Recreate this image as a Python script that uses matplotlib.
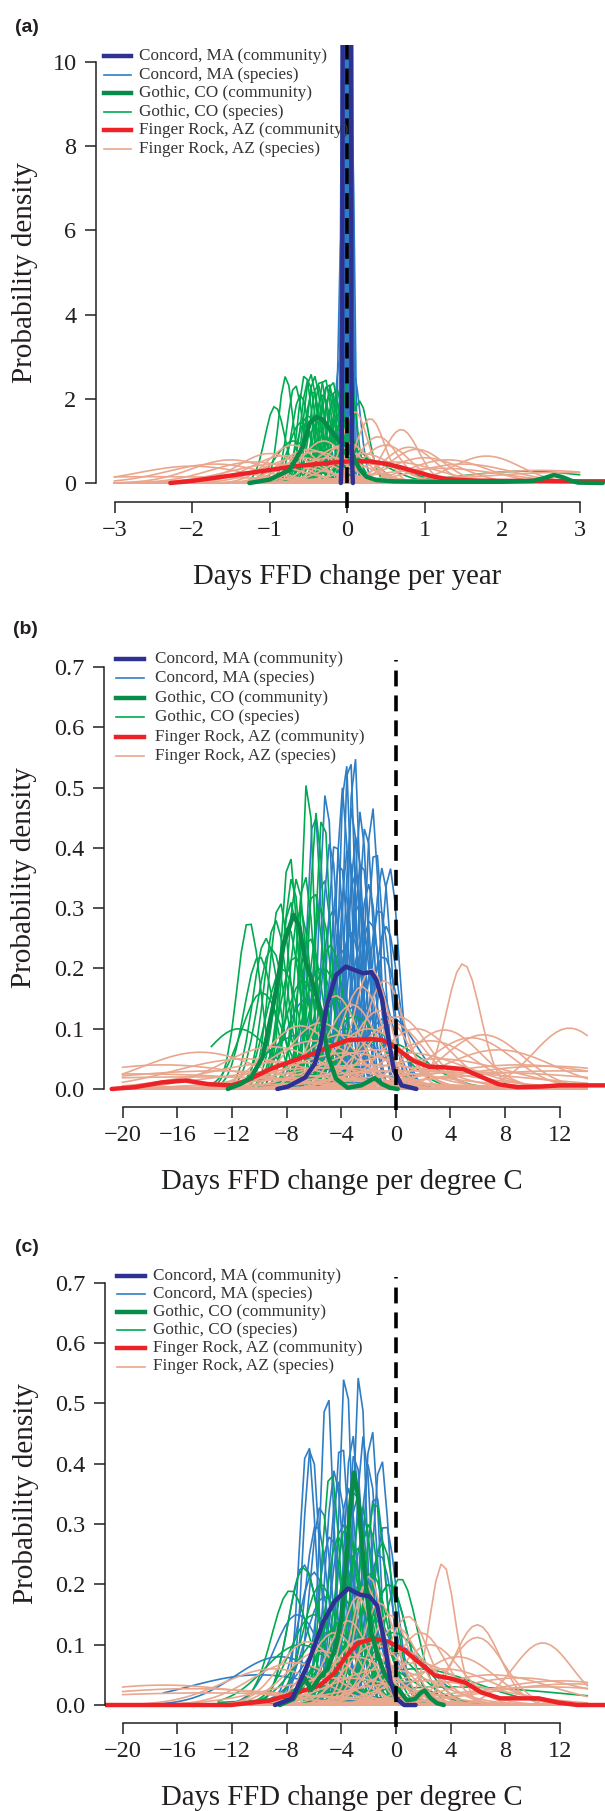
import numpy as np
import matplotlib.pyplot as plt
from matplotlib.lines import Line2D

plt.rcParams['font.family'] = ['Liberation Serif', 'DejaVu Serif']

W, H = 605, 1811
INK = '#231F20'

C_CON = '#2E3192'
C_CON_SP = '#2E7EC5'
C_GOT = '#078B48'
C_GOT_SP = '#00AA50'
C_FR = '#EC2227'
C_FR_SP = '#E9A78E'

legend_labels = ['Concord, MA (community)', 'Concord, MA (species)',
                 'Gothic, CO (community)', 'Gothic, CO (species)',
                 'Finger Rock, AZ (community)', 'Finger Rock, AZ (species)']

# ---------------- (a) days per year ----------------
a_xticks = [-3, -2, -1, 0, 1, 2, 3]
a_yticks = [0, 2, 4, 6, 8, 10]

a_con_x = [-0.08, -0.07, -0.062, -0.056, 0.0, 0.052, 0.058, 0.066, 0.076]
a_con_y = [0.0, 0.5, 3.0, 11.0, 25.0, 11.0, 3.0, 0.5, 0.0]

a_got_x = [-1.26, -1.0, -0.74, -0.57, -0.48, -0.39, -0.31, -0.18, -0.09, 0.0, 0.05, 0.1,
           0.17, 0.25, 0.38, 0.6, 1.0, 1.5, 2.0, 2.4, 2.55, 2.67, 2.78, 2.9, 2.98, 3.3]
a_got_y = [0.0, 0.08, 0.31, 0.86, 1.42, 1.57, 1.5, 1.18, 0.98, 0.9, 0.8, 0.55,
           0.31, 0.15, 0.07, 0.04, 0.03, 0.03, 0.03, 0.05, 0.12, 0.19, 0.14, 0.05, 0.01, 0.0]

a_fr_x = [-2.28, -2.0, -1.6, -1.3, -1.0, -0.7, -0.4, -0.1, 0.1, 0.3, 0.5, 0.7, 0.9, 1.1,
          1.3, 1.6, 2.0, 2.5, 3.0, 3.35]
a_fr_y = [0.0, 0.05, 0.15, 0.23, 0.31, 0.39, 0.45, 0.5, 0.52, 0.51, 0.46, 0.37, 0.26, 0.16,
          0.09, 0.06, 0.05, 0.05, 0.04, 0.04]

a_con_sp_mu = [-0.08, -0.07, -0.06, -0.05, -0.03, -0.02, 0.0, 0.0, 0.02, 0.03, 0.04, 0.05, 0.06, 0.07, 0.08]
a_con_sp_pk = [3.0, 6.0, 12.0, 25.0, 40.0, 18.0, 60.0, 15.0, 35.0, 10.0, 20.0, 30.0, 12.0, 8.0, 2.6]

a_got_sp_mu = [-0.93, -0.79, -0.67, -0.6, -0.54, -0.5, -0.47, -0.44, -0.42, -0.38, -0.34, -0.31,
               -0.29, -0.26, -0.24, -0.21, -0.19, -0.16, -0.14, -0.1, -0.08, -0.05, 0.03, 0.16,
               -0.69, -0.59, -0.5, -0.4, -0.3, -0.2, -0.12, 0.05, 0.15, 0.25, 2.3]
a_got_sp_pk = [1.82, 2.54, 2.33, 2.1, 2.59, 2.45, 2.59, 2.2, 2.54, 2.35, 2.46, 2.1,
               2.5, 2.3, 2.37, 2.2, 2.42, 2.0, 2.25, 1.9, 1.7, 1.5, 2.63, 1.95,
               1.0, 1.44, 1.6, 1.3, 1.1, 0.95, 1.27, 0.8, 0.6, 0.5, 0.28]

a_fr_sp_mu = [0.3, 0.7, 1.8, 0.8, 0.1, -1.5, -0.7, -0.3, 1.5, -1.0, -0.5, 0.0, 0.5,
              1.0, -2.0, -1.2, 0.2, -0.2, 2.5, 1.2, -0.9, 0.6, -2.5, 2.8, -0.6,
              -1.7, -0.4, 0.4, 0.9, -0.1, 1.3, -0.8]
a_fr_sp_pk = [1.53, 1.27, 0.64, 0.85, 1.7, 0.55, 0.9, 1.0, 0.45, 0.7, 0.8, 0.95, 0.9,
              0.6, 0.4, 0.5, 0.7, 0.6, 0.3, 0.35, 0.45, 0.5, 0.15, 0.25, 0.6,
              0.45, 0.75, 1.1, 0.8, 0.85, 0.55, 0.65]

# ---------------- (b) days per degree C ----------------
bc_xticks = [-20, -16, -12, -8, -4, 0, 4, 8, 12]
bc_yticks = [0.0, 0.1, 0.2, 0.3, 0.4, 0.5, 0.6, 0.7]

b_con_x = [-8.67, -7.9, -6.64, -5.93, -5.5, -5.08, -4.38, -3.67, -2.97, -2.4, -1.78,
           -1.41, -0.99, -0.56, -0.14, 0.42, 1.5]
b_con_y = [0.0, 0.004, 0.019, 0.042, 0.075, 0.136, 0.189, 0.203, 0.197, 0.192, 0.194,
           0.18, 0.147, 0.086, 0.031, 0.006, 0.0]

b_got_x = [-12.3, -11.4, -10.6, -9.75, -8.9, -8.19, -7.49, -7.06, -6.64, -6.07, -5.51,
           -4.94, -4.38, -3.53, -2.54, -1.55, -0.99, -0.42, 0.14]
b_got_y = [0.0, 0.008, 0.019, 0.053, 0.147, 0.242, 0.289, 0.27, 0.214, 0.175, 0.131,
           0.053, 0.017, 0.002, 0.006, 0.018, 0.008, 0.002, 0.0]

b_fr_x = [-20.8, -19.1, -17.1, -15.4, -13.7, -12.0, -10.9, -9.2, -7.5, -6.36, -4.94,
          -3.53, -1.84, -0.99, -0.42, 0.42, 1.27, 2.4, 3.53, 4.94, 6.07, 7.5, 8.9,
          10.6, 12.0, 15.3]
b_fr_y = [0.0, 0.003, 0.011, 0.014, 0.008, 0.006, 0.014, 0.033, 0.047, 0.056, 0.069,
          0.081, 0.083, 0.081, 0.075, 0.061, 0.047, 0.037, 0.036, 0.033, 0.022, 0.008,
          0.003, 0.004, 0.006, 0.006]

b_con_sp_mu = [-3.41, -3.69, -3.04, -5.1, -5.96, -1.73, -2.58, -1.0, -0.44, -4.4, -3.9,
               -3.2, -2.2, -4.8, -2.9, -3.5, -2.5, -1.5, -4.1, -3.0, -2.0, -5.3, -1.2,
               -0.7, -3.8, -2.7, -4.6, -1.9, -3.3, -2.4, -0.9, -4.0, -5.6, -1.6, -6.5,
               -2.8, -0.5, -3.6, -7.0]
b_con_sp_pk = [0.57, 0.55, 0.56, 0.496, 0.463, 0.469, 0.462, 0.367, 0.367, 0.416, 0.5,
               0.47, 0.44, 0.41, 0.42, 0.4, 0.38, 0.4, 0.38, 0.36, 0.34, 0.35, 0.3,
               0.27, 0.33, 0.31, 0.3, 0.28, 0.26, 0.25, 0.22, 0.23, 0.2, 0.19, 0.15,
               0.14, 0.12, 0.1, 0.09]

b_got_sp_mu = [-6.46, -7.79, -10.76, -5.33, -6.66, -7.24, -9.1, -5.8, -7.6, -8.5, -6.0,
               -7.0, -8.8, -5.5, -7.9, -9.5, -6.3, -10.0, -4.8, -7.4, -8.3, -5.2, -6.8,
               -9.8, -4.2, -3.0, -2.0, -11.5, -1.0, -7.7]
b_got_sp_pk = [0.52, 0.389, 0.279, 0.463, 0.354, 0.35, 0.234, 0.46, 0.35, 0.31, 0.33,
               0.3, 0.28, 0.3, 0.27, 0.25, 0.25, 0.22, 0.24, 0.22, 0.2, 0.2, 0.18,
               0.16, 0.15, 0.12, 0.1, 0.1, 0.08, 0.31]

b_fr_sp_mu = [4.93, 12.7, -1.8, -0.82, -4.4, 3.55, 6.4, -14.3, -2.5, -3.2, -1.2, 0.2,
              -5.5, -7.0, 1.5, -0.3, -2.0, -4.0, 5.5, -6.0, 2.5, -9.0, 7.5, -1.5, 0.8,
              -3.5, -11.0, 3.0, 9.0, -8.0, -17.0, 11.0, -13.0, -5.0, 1.0, -19.0, 6.0,
              -15.0, 12.0, -2.0]
b_fr_sp_pk = [0.208, 0.101, 0.2, 0.18, 0.155, 0.098, 0.09, 0.061, 0.17, 0.14, 0.13, 0.12,
              0.11, 0.105, 0.1, 0.11, 0.1, 0.09, 0.085, 0.08, 0.08, 0.07, 0.065, 0.065,
              0.06, 0.06, 0.05, 0.05, 0.04, 0.045, 0.04, 0.038, 0.03, 0.035, 0.03, 0.025,
              0.028, 0.02, 0.03, 0.04]

# ---------------- (c) days per degree C ----------------
c_con_x = [-8.85, -7.58, -6.46, -5.33, -4.48, -3.5, -2.65, -1.95, -1.38, -0.82, -0.39,
           0.03, 0.6, 1.44]
c_con_y = [0.0, 0.011, 0.067, 0.137, 0.172, 0.193, 0.183, 0.18, 0.165, 0.102, 0.039,
           0.011, 0.0, 0.0]

c_got_x = [-8.5, -7.5, -7.0, -6.7, -6.2, -5.6, -5.0, -4.5, -4.0, -3.6, -3.3, -3.07, -2.8,
           -2.5, -2.2, -1.8, -1.3, -0.8, -0.4, 0.2, 0.8, 1.4, 1.8, 2.1, 2.5, 3.0, 3.5]
c_got_y = [0.0, 0.01, 0.03, 0.045, 0.025, 0.045, 0.06, 0.09, 0.14, 0.25, 0.34, 0.385, 0.35,
           0.27, 0.2, 0.12, 0.08, 0.05, 0.035, 0.025, 0.008, 0.01, 0.02, 0.024, 0.012,
           0.003, 0.0]

c_fr_x = [-21.3, -12.1, -9.3, -7.6, -5.6, -4.5, -3.64, -2.8, -1.66, -0.54, 0.59, 1.72,
          2.85, 3.98, 5.1, 6.23, 7.64, 9.05, 10.46, 11.87, 13.3, 15.3]
c_fr_y = [0.0, 0.0, 0.007, 0.018, 0.032, 0.053, 0.081, 0.102, 0.11, 0.105, 0.091, 0.07,
          0.049, 0.044, 0.037, 0.021, 0.011, 0.011, 0.011, 0.004, 0.0, 0.0]

c_con_sp_mu = [-3.69, -2.65, -5.05, -6.46, -2.37, -1.1, -4.48, -6.74, -3.2, -4.0, -1.8,
               -3.0, -2.0, -4.2, -3.5, -2.8, -1.5, -5.5, -0.8, -3.9, -2.3, -4.8, -1.2,
               -3.3, -6.0, -0.5, -2.6, -5.2, -7.2, -1.9, -4.4, -8.5, -3.0, -10.0, -0.2,
               -5.8, -6.2]
c_con_sp_pk = [0.565, 0.558, 0.53, 0.437, 0.446, 0.41, 0.39, 0.232, 0.45, 0.44, 0.46,
               0.42, 0.4, 0.37, 0.36, 0.35, 0.35, 0.33, 0.3, 0.3, 0.29, 0.28, 0.25,
               0.25, 0.22, 0.2, 0.2, 0.18, 0.15, 0.16, 0.12, 0.08, 0.1, 0.05, 0.1,
               0.3, 0.43]

c_got_sp_mu = [-4.76, -6.74, -7.72, -1.52, 0.31, -3.0, -2.5, -3.6, -2.0, -4.2, -1.0, -3.3,
               -2.8, -5.5, -1.8, -0.5, -4.0, -6.0, -2.2, -3.8, -0.2, -5.0, -7.0, -1.3,
               -2.6, 1.5, 4.0]
c_got_sp_pk = [0.39, 0.228, 0.19, 0.34, 0.21, 0.36, 0.33, 0.3, 0.3, 0.28, 0.27, 0.25,
               0.26, 0.2, 0.22, 0.2, 0.18, 0.15, 0.16, 0.14, 0.12, 0.12, 0.1, 0.1,
               0.08, 0.06, 0.03]

c_fr_sp_mu = [3.41, 5.95, 5.95, 10.74, -1.95, -2.2, 0.87, -6.46, -17.0, -15.0, -14.0, -2.8,
              -1.2, -0.5, -3.5, 0.0, 1.8, -4.5, -2.5, -1.5, 2.5, -5.5, 0.5, -3.0, 4.5,
              -7.5, 1.5, 3.5, -9.0, -0.8, 7.0, 9.0, 12.0, 13.0, 11.0, -4.0, 2.0]
c_fr_sp_pk = [0.235, 0.133, 0.112, 0.103, 0.214, 0.2, 0.147, 0.105, 0.033, 0.027, 0.02,
              0.18, 0.17, 0.15, 0.14, 0.13, 0.12, 0.12, 0.11, 0.1, 0.1, 0.09, 0.09, 0.08,
              0.08, 0.07, 0.07, 0.06, 0.06, 0.06, 0.05, 0.045, 0.04, 0.035, 0.03, 0.045,
              0.04]


def fx(px):
    return px / W


def fy(py):
    return 1 - py / H


def density(mu, pk, lo, hi, n, area):
    # bell curve with the peak; width from the area under it
    x = np.linspace(lo, hi, n)
    sd = area / (pk * np.sqrt(2 * np.pi))
    return x, pk * np.exp(-0.5 * ((x - mu) / sd) ** 2)


fig = plt.figure(figsize=(W / 100, H / 100), dpi=100)

panels = [
    dict(box=(96, 44.6, 605, 502), xlim=(-3.239, 3.329), ylim=(-0.451, 10.413),
         xticks=a_xticks, yticks=a_yticks,
         con=(a_con_x, a_con_y), got=(a_got_x, a_got_y), fr=(a_fr_x, a_fr_y),
         con_sp=(a_con_sp_mu, a_con_sp_pk, -3, 3, 1201, 0.6),
         got_sp=(a_got_sp_mu, a_got_sp_pk, -1.28, 3.0, 90, 0.58),
         fr_sp=(a_fr_sp_mu, a_fr_sp_pk, -3, 3, 120, 0.7),
         dash=(-0.6, 10.413),
         letter='(a)', letter_xy=(15, 28),
         xlabel='Days FFD change per year', xlabel_xy=(347, 577),
         ylabel_xy=(25, 272.5),
         leg_rows=[56 + 18.6 * i for i in range(6)], leg_x=(104, 131, 139)),
    dict(box=(104, 656.6, 605, 1107), xlim=(-21.36, 15.31), ylim=(-0.0299, 0.7176),
         xticks=bc_xticks, yticks=bc_yticks,
         con=(b_con_x, b_con_y), got=(b_got_x, b_got_y), fr=(b_fr_x, b_fr_y),
         con_sp=(b_con_sp_mu, b_con_sp_pk, -10, 2.5, 40, 0.6),
         got_sp=(b_got_sp_mu, b_got_sp_pk, -13.5, 8, 60, 0.6),
         fr_sp=(b_fr_sp_mu, b_fr_sp_pk, -20, 14, 90, 0.65),
         dash=(-0.035, 0.712),
         letter='(b)', letter_xy=(13.5, 630),
         xlabel='Days FFD change per degree C', xlabel_xy=(342, 1182),
         ylabel_xy=(24, 878),
         leg_rows=[659 + 19.4 * i for i in range(6)], leg_x=(116, 144, 155)),
    dict(box=(105, 1272, 605, 1723), xlim=(-21.29, 15.3), ylim=(-0.0298, 0.7175),
         xticks=bc_xticks, yticks=bc_yticks,
         con=(c_con_x, c_con_y), got=(c_got_x, c_got_y), fr=(c_fr_x, c_fr_y),
         con_sp=(c_con_sp_mu, c_con_sp_pk, -17, 4, 60, 0.65),
         got_sp=(c_got_sp_mu, c_got_sp_pk, -13, 14, 75, 0.65),
         fr_sp=(c_fr_sp_mu, c_fr_sp_pk, -20, 14, 90, 0.55),
         dash=(-0.036, 0.71),
         letter='(c)', letter_xy=(15.4, 1247),
         xlabel='Days FFD change per degree C', xlabel_xy=(342, 1798),
         ylabel_xy=(26, 1493.5),
         leg_rows=[1275.5 + 18.2 * i for i in range(6)], leg_x=(117, 145, 153)),
]

thin, thick = 1.2, 3.2

for p in panels:
    l, t, r, b = p['box']
    ax = fig.add_axes([fx(l), fy(b), (r - l) / W, (b - t) / H])
    ax.set_xlim(*p['xlim'])
    ax.set_ylim(*p['ylim'])

    for key, col in [('con_sp', C_CON_SP), ('got_sp', C_GOT_SP), ('fr_sp', C_FR_SP)]:
        mus, pks, lo, hi, n, area = p[key]
        for mu, pk in zip(mus, pks):
            x, y = density(mu, pk, lo, hi, n, area)
            ax.plot(x, y, color=col, lw=thin, solid_joinstyle='miter')

    ax.plot(*p['fr'], color=C_FR, lw=thick, solid_capstyle='round')
    ax.plot(*p['got'], color=C_GOT, lw=thick, solid_capstyle='round')
    ax.plot(*p['con'], color=C_CON, lw=thick, solid_capstyle='round')
    ax.plot([0, 0], p['dash'], color='black', lw=2.6, dashes=(4.4, 2.5), clip_on=False, zorder=10)

    for s in ['top', 'right']:
        ax.spines[s].set_visible(False)
    for s in ['left', 'bottom']:
        ax.spines[s].set_linewidth(1.1)
        ax.spines[s].set_color(INK)
    ax.spines['left'].set_bounds(p['yticks'][0], p['yticks'][-1])
    ax.spines['bottom'].set_bounds(p['xticks'][0], p['xticks'][-1])
    ax.set_xticks(p['xticks'])
    ax.set_yticks(p['yticks'])
    ax.tick_params(direction='out', length=8, width=1.1, color=INK, labelcolor=INK,
                   labelsize=17.5)
    ax.tick_params(axis='y', pad=6)
    ax.tick_params(axis='x', pad=5)

    fig.text(fx(p['xlabel_xy'][0]), fy(p['xlabel_xy'][1]), p['xlabel'], fontsize=20.7,
             color=INK, ha='center', va='center')
    fig.text(fx(p['ylabel_xy'][0]), fy(p['ylabel_xy'][1]), 'Probability density',
             fontsize=21, color=INK, ha='center', va='center', rotation=90)
    fig.text(fx(p['letter_xy'][0]), fy(p['letter_xy'][1]), p['letter'], fontsize=14,
             fontweight='bold', family='Liberation Sans', color=INK, ha='left', va='center')

    x0, x1, xt = p['leg_x']
    styles = [(C_CON, thick), (C_CON_SP, thin), (C_GOT, thick), (C_GOT_SP, thin),
              (C_FR, thick), (C_FR_SP, thin)]
    for row, lab, (col, lw) in zip(p['leg_rows'], legend_labels, styles):
        fig.add_artist(Line2D([fx(x0), fx(x1)], [fy(row), fy(row)], color=col, lw=lw))
        fig.text(fx(xt), fy(row), lab, fontsize=12.3, color='#333333', ha='left', va='center')

fig.savefig('out.png', dpi=100)
